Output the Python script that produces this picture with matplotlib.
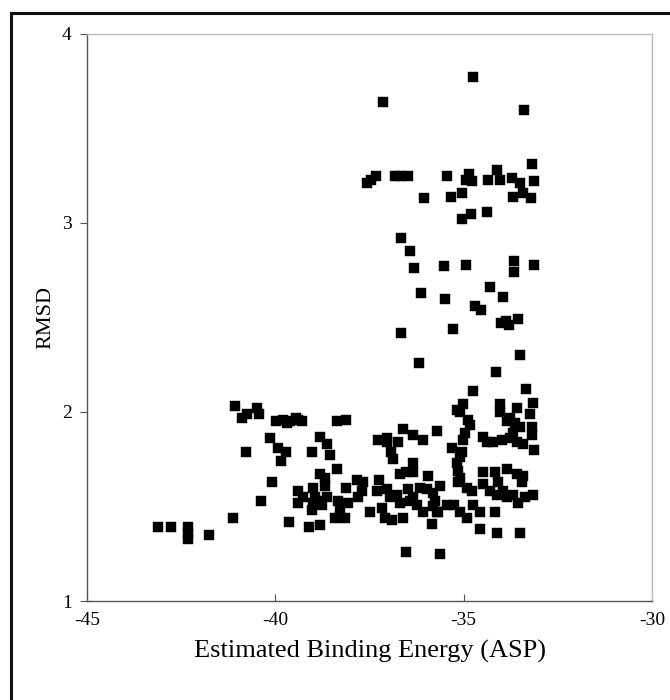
import matplotlib
matplotlib.use("Agg")
import matplotlib.pyplot as plt
from matplotlib.lines import Line2D

# binding energy (ASP) vs RMSD
energy_top = [-34.75, -37.14, -33.40, -37.57, -37.46, -37.33, -36.82, -36.69, -36.48, -35.44,
              -34.94, -34.86, -34.78, -34.35, -34.12, -34.04, -33.72, -33.51, -33.43, -33.19,
              -33.13, -33.69, -33.21, -36.05, -35.34, -35.05, -35.05, -34.81, -34.38, -36.66,
              -36.43, -36.32, -35.52, -34.94, -33.66, -33.66, -33.13, -36.13, -35.50, -34.30,
              -33.96, -34.70, -34.54, -36.66, -35.28, -34.01, -33.88, -33.80, -33.56, -36.19,
              -33.51, -34.14, -34.75, -33.35]
rmsd_top = [3.77, 3.64, 3.60, 3.21, 3.23, 3.25, 3.25, 3.25, 3.25, 3.25,
            3.23, 3.26, 3.22, 3.23, 3.28, 3.23, 3.24, 3.21, 3.16, 3.31,
            3.22, 3.14, 3.13, 3.13, 3.14, 3.16, 3.02, 3.05, 3.06, 2.92,
            2.85, 2.76, 2.77, 2.78, 2.80, 2.74, 2.78, 2.63, 2.60, 2.66,
            2.61, 2.56, 2.54, 2.42, 2.44, 2.47, 2.48, 2.46, 2.49, 2.26,
            2.30, 2.21, 2.11, 2.12]

energy_left = [-41.07, -40.89, -40.75, -40.49, -40.43, -39.98, -39.80, -39.69, -39.61, -39.45,
               -39.40, -39.29, -40.14, -39.93, -39.72, -39.85, -40.78, -39.03, -38.81, -38.63,
               -38.55, -40.09, -38.81, -38.68, -40.38, -39.40, -39.40, -39.27, -39.00, -38.95,
               -39.00, -38.81, -38.76, -38.63, -39.03, -41.12, -39.64, -39.11, -38.81, -43.12,
               -42.77, -42.32, -42.32, -42.32, -41.76]
rmsd_left = [2.03, 1.97, 1.99, 2.02, 1.99, 1.95, 1.96, 1.94, 1.95, 1.97,
             1.96, 1.95, 1.86, 1.81, 1.79, 1.74, 1.79, 1.79, 1.87, 1.83,
             1.77, 1.63, 1.67, 1.65, 1.53, 1.58, 1.52, 1.55, 1.60, 1.55,
             1.52, 1.53, 1.51, 1.55, 1.48, 1.44, 1.42, 1.39, 1.40, 1.39,
             1.39, 1.39, 1.36, 1.33, 1.35]

energy_mid = [-38.36, -38.12, -37.27, -37.04, -37.04, -36.74, -36.61, -36.35, -36.08, -35.71,
              -36.93, -36.88, -38.36, -37.83, -37.67, -37.25, -36.69, -36.53, -36.35, -36.35,
              -35.95, -38.12, -38.68, -38.34, -38.28, -38.42, -38.15, -38.07, -37.70, -37.81,
              -37.49, -37.30, -37.04, -37.17, -37.09, -36.90, -36.96, -36.77, -36.69, -36.61,
              -36.48, -36.43, -36.35, -36.24, -36.16, -35.97, -36.08, -35.84, -35.81, -35.68,
              -36.53, -35.63, -35.63, -35.81, -35.76, -35.44, -35.26, -35.71]
rmsd_mid = [1.95, 1.96, 1.85, 1.86, 1.84, 1.84, 1.91, 1.88, 1.85, 1.90,
            1.79, 1.75, 1.70, 1.64, 1.63, 1.64, 1.67, 1.68, 1.73, 1.68,
            1.66, 1.60, 1.61, 1.53, 1.49, 1.44, 1.44, 1.52, 1.58, 1.55,
            1.47, 1.58, 1.59, 1.49, 1.44, 1.43, 1.55, 1.56, 1.52, 1.44,
            1.59, 1.53, 1.55, 1.51, 1.60, 1.59, 1.47, 1.41, 1.50, 1.47,
            1.26, 1.25, 1.61, 1.57, 1.53, 1.51, 1.51, 1.47]

energy_right = [-35.15, -34.91, -34.78, -35.10, -34.91, -34.75, -34.57, -34.49, -34.30, -34.12,
                -33.96, -33.85, -33.69, -33.56, -33.37, -33.16, -34.17, -34.09, -33.45, -34.57,
                -34.12, -33.51, -35.18, -35.02, -35.10, -34.89, -34.83, -34.97, -35.02, -35.31,
                -35.05, -35.10, -35.18, -35.15, -35.10, -34.04, -34.04, -33.58, -33.77, -33.85,
                -33.16, -33.24, -33.64, -33.51, -33.69, -33.19, -33.19, -34.49, -34.38, -34.22,
                -33.98, -33.77, -33.58, -33.43, -33.13, -34.49, -34.17, -33.85, -33.58, -33.43]
rmsd_right = [1.63, 1.60, 1.58, 1.47, 1.44, 1.51, 1.47, 1.62, 1.58, 1.56,
              1.58, 1.55, 1.56, 1.52, 1.55, 1.56, 1.47, 1.63, 1.63, 1.38,
              1.36, 1.36, 2.01, 2.04, 2.00, 1.96, 1.93, 1.89, 1.85, 1.81,
              1.79, 1.76, 1.73, 1.69, 1.65, 2.04, 2.00, 2.02, 1.97, 1.95,
              2.05, 1.99, 1.94, 1.92, 1.89, 1.92, 1.88, 1.87, 1.84, 1.84,
              1.85, 1.86, 1.84, 1.83, 1.80, 1.68, 1.68, 1.70, 1.67, 1.66]

energy = energy_top + energy_left + energy_mid + energy_right
rmsd = rmsd_top + rmsd_left + rmsd_mid + rmsd_right

x_ticks = [-45, -40, -35, -30]
y_ticks = [1, 2, 3, 4]

plt.rcParams['font.family'] = ['Liberation Serif', 'DejaVu Serif']

fig = plt.figure(figsize=(6.7, 7.0), dpi=100)
ax = fig.add_axes([87/670, 1 - 601/700, (652-87)/670, (601-34)/700])

ax.plot(energy, rmsd, linestyle='none', marker='s', markersize=6.8,
        markerfacecolor='black', markeredgecolor='black', markeredgewidth=0.3)

ax.set_xlim(-45, -30)
ax.set_ylim(1, 4)
ax.set_xticks(x_ticks)
ax.set_yticks(y_ticks)
ax.set_xticklabels([str(t) for t in x_ticks])
ax.set_yticklabels([str(t) for t in y_ticks])
ax.tick_params(axis='x', direction='in', length=5, color='#555555', labelsize=14, pad=8)
ax.tick_params(axis='y', direction='out', length=5, color='#555555', labelsize=14, pad=6)

for s in ['left', 'bottom']:
    ax.spines[s].set_color('#555555')
    ax.spines[s].set_linewidth(1.0)
for s in ['top', 'right']:
    ax.spines[s].set_color('#bbbbbb')
    ax.spines[s].set_linewidth(1.0)

ax.set_xlabel('Estimated Binding Energy (ASP)', fontsize=19, labelpad=8)
ax.set_ylabel('RMSD', fontsize=16, labelpad=5)

# outer black frame (only top and left edges are visible)
fig.add_artist(Line2D([11/670, 11/670], [0, 1 - 13/700], transform=fig.transFigure,
                      color='#111111', linewidth=2.2))
fig.add_artist(Line2D([11/670, 1], [1 - 13/700, 1 - 13/700], transform=fig.transFigure,
                      color='#111111', linewidth=2.2))

fig.savefig('out.png', dpi=100)
